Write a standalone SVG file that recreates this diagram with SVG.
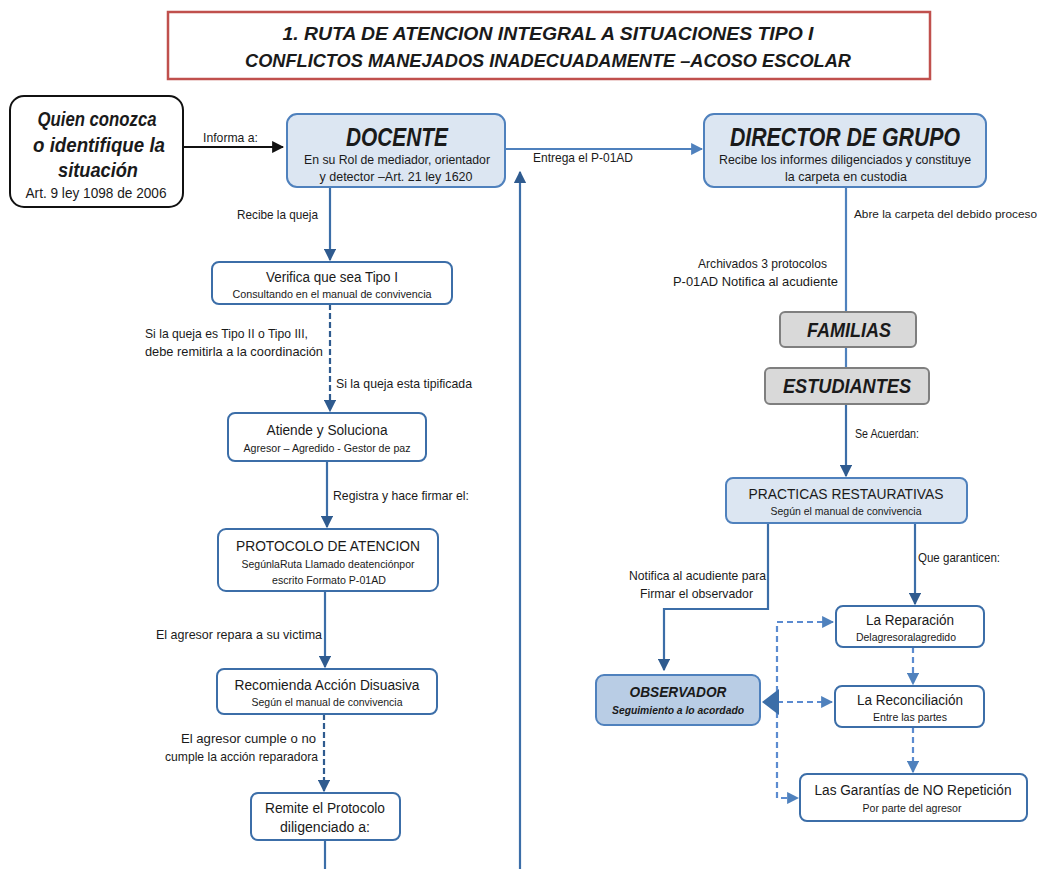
<svg xmlns="http://www.w3.org/2000/svg" width="1045" height="869" viewBox="0 0 1045 869">
<style>
text{font-family:"Liberation Sans",Arial,sans-serif;fill:#1a1a1a}
.c{text-anchor:middle}
.e{text-anchor:end}
.bi{font-weight:bold;font-style:italic}
.lbl{font-size:13px}
.cal{font-size:13px}
.t1{font-size:15.5px}
.t2{font-size:11px}
.box{fill:#fff;stroke:#3c6ea8;stroke-width:2}
.blue{fill:#dce6f2;stroke:#4f81bd;stroke-width:2}
.obs{fill:#b9cde5;stroke:#4f81bd;stroke-width:2}
.gray{fill:#d9d9d9;stroke:#7f7f7f;stroke-width:2}
.ln{fill:none;stroke:#3c6ea8;stroke-width:2.2}
.lnl{fill:none;stroke:#4f81bd;stroke-width:2.2}
.dd{fill:none;stroke:#2f5b8f;stroke-width:2.2;stroke-dasharray:6,3}
.dl{fill:none;stroke:#5b8bd0;stroke-width:2.2;stroke-dasharray:6,4}
</style>
<defs>
<marker id="ah" viewBox="0 0 10 10" refX="9" refY="5" markerWidth="5.5" markerHeight="5.5" orient="auto"><path d="M0,0 L10,5 L0,10 z" fill="#2f5b8f"/></marker>
<marker id="ahk" viewBox="0 0 10 10" refX="9" refY="5" markerWidth="5.5" markerHeight="5.5" orient="auto"><path d="M0,0 L10,5 L0,10 z" fill="#111"/></marker>
<marker id="ahl" viewBox="0 0 10 10" refX="9" refY="5" markerWidth="5.5" markerHeight="5.5" orient="auto"><path d="M0,0 L10,5 L0,10 z" fill="#4f81bd"/></marker>
</defs>
<rect width="1045" height="869" fill="#fff"/>

<g id="title">
<rect x="168" y="12" width="762" height="67" fill="#fff" stroke="#c0504d" stroke-width="2.5"/>
<text x="548" y="40" class="c bi" font-size="19" textLength="531" lengthAdjust="spacingAndGlyphs">1. RUTA DE ATENCION INTEGRAL A SITUACIONES TIPO I</text>
<text x="548" y="67" class="c bi" font-size="19" textLength="606" lengthAdjust="spacingAndGlyphs">CONFLICTOS MANEJADOS INADECUADAMENTE –ACOSO ESCOLAR</text>
</g>

<g id="connectors">
<line x1="183" y1="147" x2="283" y2="147" stroke="#111" stroke-width="2.2" marker-end="url(#ahk)"/>
<line x1="505" y1="149" x2="702" y2="149" class="lnl" marker-end="url(#ahl)"/>
<line x1="520" y1="869" x2="520" y2="172" class="ln" marker-end="url(#ah)"/>
<line x1="330" y1="187" x2="330" y2="260" class="ln" marker-end="url(#ah)"/>
<line x1="330" y1="304" x2="330" y2="411" class="dd" marker-end="url(#ah)"/>
<line x1="327" y1="461" x2="327" y2="527" class="ln" marker-end="url(#ah)"/>
<line x1="325" y1="591" x2="325" y2="667" class="ln" marker-end="url(#ah)"/>
<line x1="324" y1="714" x2="324" y2="791" class="dd" marker-end="url(#ah)"/>
<line x1="325" y1="840" x2="325" y2="869" class="ln"/>
<line x1="846" y1="187" x2="846" y2="312" class="lnl"/>
<line x1="846" y1="347" x2="846" y2="368" class="lnl"/>
<line x1="846" y1="404" x2="846" y2="476" class="ln" marker-end="url(#ah)"/>
<polyline points="768,523 768,609 664,609 664,670" class="ln" marker-end="url(#ah)"/>
<line x1="915" y1="523" x2="915" y2="604" class="ln" marker-end="url(#ah)"/>
<line x1="913" y1="647" x2="913" y2="684" class="dl" marker-end="url(#ahl)"/>
<line x1="913" y1="727" x2="913" y2="772" class="dl" marker-end="url(#ahl)"/>
<path d="M777,702 V622 H833" class="dl" marker-end="url(#ahl)"/>
<path d="M777,702 V798 H798" class="dl" marker-end="url(#ahl)"/>
<line x1="777" y1="702" x2="832" y2="702" class="dl" marker-end="url(#ahl)"/>
<polygon points="762,702 779,689 779,715" fill="#3c6ea8"/>
<text x="203" y="142" class="lbl" textLength="55" lengthAdjust="spacingAndGlyphs">Informa a:</text>
<text x="533" y="162" class="lbl" textLength="100" lengthAdjust="spacingAndGlyphs">Entrega el P-01AD</text>
<text x="237" y="219" class="lbl" textLength="81" lengthAdjust="spacingAndGlyphs">Recibe la queja</text>
<text x="145" y="338" class="cal" textLength="163" lengthAdjust="spacingAndGlyphs">Si la queja es Tipo II o Tipo III,</text>
<text x="145" y="356" class="cal" textLength="178" lengthAdjust="spacingAndGlyphs">debe remitirla a la coordinación</text>
<text x="336" y="388" class="lbl" textLength="136" lengthAdjust="spacingAndGlyphs">Si la queja esta tipificada</text>
<text x="333" y="500" class="lbl" textLength="136" lengthAdjust="spacingAndGlyphs">Registra y hace firmar el:</text>
<text x="156" y="639" class="lbl" textLength="166" lengthAdjust="spacingAndGlyphs">El agresor repara a su victima</text>
<text x="181" y="743" class="lbl" textLength="135" lengthAdjust="spacingAndGlyphs">El agresor cumple o no</text>
<text x="165" y="761" class="lbl" textLength="153" lengthAdjust="spacingAndGlyphs">cumple la acción reparadora</text>
<text x="854" y="218" font-size="11.5" textLength="183" lengthAdjust="spacingAndGlyphs">Abre la carpeta del debido proceso</text>
<text x="698" y="268" class="lbl" textLength="129" lengthAdjust="spacingAndGlyphs">Archivados 3 protocolos</text>
<text x="673" y="286" class="lbl" textLength="165" lengthAdjust="spacingAndGlyphs">P-01AD Notifica al acudiente</text>
<text x="855" y="438" class="lbl" textLength="64" lengthAdjust="spacingAndGlyphs">Se Acuerdan:</text>
<text x="918" y="562" class="lbl" textLength="82" lengthAdjust="spacingAndGlyphs">Que garanticen:</text>
<text x="629" y="580" class="lbl" textLength="137" lengthAdjust="spacingAndGlyphs">Notifica al acudiente para</text>
<text x="640" y="598" class="lbl" textLength="113" lengthAdjust="spacingAndGlyphs">Firmar el observador</text>
</g>

<g id="quien">
<rect x="10" y="96" width="173" height="111" rx="14" fill="#fff" stroke="#111" stroke-width="2"/>
<text x="97" y="126" class="c bi" font-size="21" textLength="119" lengthAdjust="spacingAndGlyphs">Quien conozca</text>
<text x="99" y="152" class="c bi" font-size="21" textLength="132" lengthAdjust="spacingAndGlyphs">o identifique la</text>
<text x="98" y="177" class="c bi" font-size="21" textLength="80" lengthAdjust="spacingAndGlyphs">situación</text>
<text x="96" y="198" class="c" font-size="14.5" textLength="141" lengthAdjust="spacingAndGlyphs">Art. 9 ley 1098 de 2006</text>
</g>

<g id="docente">
<rect x="287" y="114" width="218" height="73" rx="10" class="blue"/>
<text x="397" y="146" class="c bi" font-size="25" textLength="102" lengthAdjust="spacingAndGlyphs">DOCENTE</text>
<text x="397" y="164" class="c lbl" textLength="186" lengthAdjust="spacingAndGlyphs">En su Rol de mediador, orientador</text>
<text x="396" y="181" class="c lbl" textLength="153" lengthAdjust="spacingAndGlyphs">y detector –Art. 21 ley 1620</text>
</g>

<g id="director">
<rect x="704" y="114" width="282" height="73" rx="10" class="blue"/>
<text x="845" y="146" class="c bi" font-size="25" textLength="230" lengthAdjust="spacingAndGlyphs">DIRECTOR DE GRUPO</text>
<text x="845" y="164" class="c lbl" textLength="252" lengthAdjust="spacingAndGlyphs">Recibe los informes diligenciados y constituye</text>
<text x="846" y="181" class="c lbl" textLength="122" lengthAdjust="spacingAndGlyphs">la carpeta en custodia</text>
</g>

<g id="verifica">
<rect x="212" y="262" width="240" height="42" rx="7" class="box"/>
<text x="332" y="282" class="c t1" textLength="132" lengthAdjust="spacingAndGlyphs">Verifica que sea Tipo I</text>
<text x="332" y="298" class="c t2" textLength="199" lengthAdjust="spacingAndGlyphs">Consultando en el manual de convivencia</text>
</g>

<g id="atiende">
<rect x="228" y="413" width="198" height="48" rx="7" class="box"/>
<text x="327" y="435" class="c t1" textLength="121" lengthAdjust="spacingAndGlyphs">Atiende y Soluciona</text>
<text x="327" y="452" class="c t2" textLength="167" lengthAdjust="spacingAndGlyphs">Agresor – Agredido - Gestor de paz</text>
</g>

<g id="protocolo">
<rect x="218" y="529" width="220" height="62" rx="8" class="box"/>
<text x="328" y="551" class="c t1" textLength="184" lengthAdjust="spacingAndGlyphs">PROTOCOLO DE ATENCION</text>
<text x="328" y="568" class="c t2" textLength="173" lengthAdjust="spacingAndGlyphs">SegúnlaRuta Llamado deatenciónpor</text>
<text x="329" y="584" class="c t2" textLength="114" lengthAdjust="spacingAndGlyphs">escrito Formato P-01AD</text>
</g>

<g id="recomienda">
<rect x="217" y="669" width="220" height="45" rx="7" class="box"/>
<text x="327" y="690" class="c t1" textLength="185" lengthAdjust="spacingAndGlyphs">Recomienda Acción Disuasiva</text>
<text x="327" y="706" class="c t2" textLength="151" lengthAdjust="spacingAndGlyphs">Según el manual de convivencia</text>
</g>

<g id="remite">
<rect x="251" y="793" width="149" height="47" rx="7" class="box"/>
<text x="325" y="813" class="c t1" textLength="120" lengthAdjust="spacingAndGlyphs">Remite el Protocolo</text>
<text x="325" y="832" class="c t1" textLength="90" lengthAdjust="spacingAndGlyphs">diligenciado a:</text>
</g>

<g id="familias">
<rect x="780" y="312" width="136" height="35" rx="5" class="gray"/>
<text x="849" y="337" class="c bi" font-size="20" textLength="84" lengthAdjust="spacingAndGlyphs">FAMILIAS</text>
</g>

<g id="estudiantes">
<rect x="765" y="368" width="164" height="36" rx="5" class="gray"/>
<text x="847" y="393" class="c bi" font-size="20" textLength="128" lengthAdjust="spacingAndGlyphs">ESTUDIANTES</text>
</g>

<g id="practicas">
<rect x="726" y="478" width="241" height="45" rx="7" class="blue"/>
<text x="846" y="499" class="c t1" textLength="195" lengthAdjust="spacingAndGlyphs">PRACTICAS RESTAURATIVAS</text>
<text x="846" y="515" class="c t2" textLength="151" lengthAdjust="spacingAndGlyphs">Según el manual de convivencia</text>
</g>

<g id="observador">
<rect x="596" y="675" width="164" height="50" rx="8" class="obs"/>
<text x="678" y="697" class="c bi" font-size="15" textLength="97" lengthAdjust="spacingAndGlyphs">OBSERVADOR</text>
<text x="678" y="714" class="c bi" font-size="11.5" textLength="132" lengthAdjust="spacingAndGlyphs">Seguimiento a lo acordado</text>
</g>

<g id="reparacion">
<rect x="836" y="606" width="148" height="41" rx="7" class="box"/>
<text x="910" y="625" class="c t1" textLength="88" lengthAdjust="spacingAndGlyphs">La Reparación</text>
<text x="906" y="641" class="c t2" textLength="100" lengthAdjust="spacingAndGlyphs">Delagresoralagredido</text>
</g>

<g id="reconciliacion">
<rect x="835" y="686" width="149" height="41" rx="7" class="box"/>
<text x="910" y="705" class="c t1" textLength="106" lengthAdjust="spacingAndGlyphs">La Reconciliación</text>
<text x="910" y="721" class="c t2" textLength="74" lengthAdjust="spacingAndGlyphs">Entre las partes</text>
</g>

<g id="garantias">
<rect x="800" y="774" width="227" height="47" rx="7" class="box"/>
<text x="913" y="795" class="c t1" textLength="197" lengthAdjust="spacingAndGlyphs">Las Garantías de NO Repetición</text>
<text x="912" y="812" class="c t2" textLength="99" lengthAdjust="spacingAndGlyphs">Por parte del agresor</text>
</g>
</svg>
